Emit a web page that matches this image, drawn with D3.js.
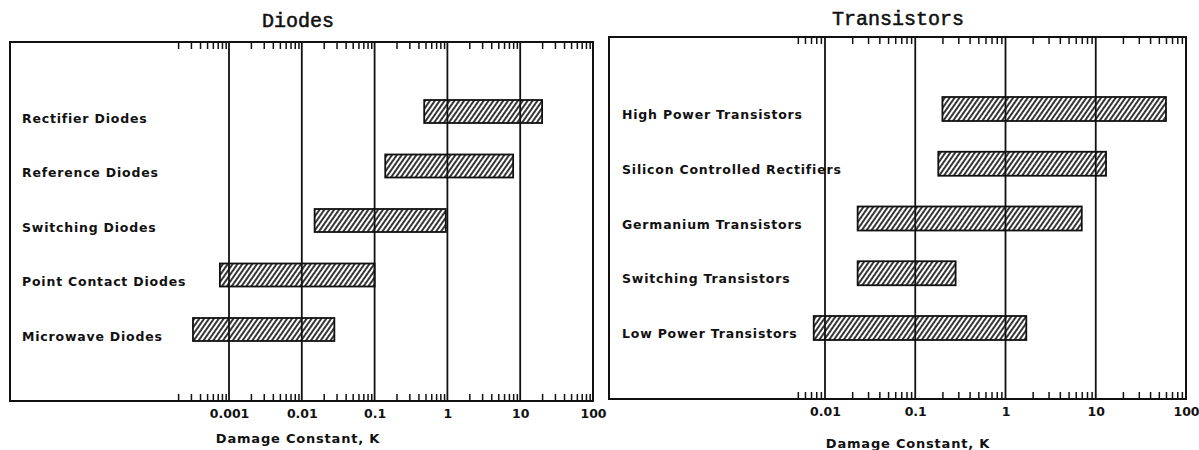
<!DOCTYPE html>
<html>
<head>
<meta charset="utf-8">
<script src="https://cdn.jsdelivr.net/npm/d3@7"></script>
<style>
  html, body { margin: 0; padding: 0; background: #fff; }
  svg { display: block; }
  .cat { font-family: "DejaVu Sans", sans-serif; font-weight: 700; font-size: 12.5px; letter-spacing: 0.8px; fill: #111; }
  .tick text { font-family: "DejaVu Sans", sans-serif; font-weight: 700; font-size: 12.5px; fill: #111; }
  .xtitle { font-family: "DejaVu Sans", sans-serif; font-weight: 700; font-size: 13px; letter-spacing: 0.8px; fill: #111; }
  .ptitle { font-family: "Liberation Mono", monospace; font-size: 20px; fill: #111; stroke: #111; stroke-width: 0.55; }
</style>
</head>
<body>
<svg id="chart" width="1199" height="450"></svg>
<script>
// Diodes: damage-constant ranges (K)
const diodeCategories = ["Rectifier Diodes", "Reference Diodes", "Switching Diodes", "Point Contact Diodes", "Microwave Diodes"];
const diodeLow  = [0.48, 0.14, 0.015, 0.00075, 0.00032];
const diodeHigh = [20, 8, 0.95, 0.1, 0.028];
const diodeTickLabels = ["0.001", "0.01", "0.1", "1", "10", "100"];

// Transistors: damage-constant ranges (K)
const transistorCategories = ["High Power Transistors", "Silicon Controlled Rectifiers", "Germanium Transistors", "Switching Transistors", "Low Power Transistors"];
const transistorLow  = [0.2, 0.18, 0.023, 0.023, 0.0075];
const transistorHigh = [60, 13, 7, 0.28, 1.7];
const transistorTickLabels = ["0.01", "0.1", "1", "10", "100"];

const svg = d3.select("#chart");

// diagonal hatch fill
const defs = svg.append("defs");
defs.append("pattern")
  .attr("id", "hatch")
  .attr("patternUnits", "userSpaceOnUse")
  .attr("width", 4).attr("height", 10)
  .attr("patternTransform", "rotate(35)")
  .call(p => {
    p.append("rect").attr("width", 4).attr("height", 10).attr("fill", "#fff");
    p.append("line").attr("x1", 2).attr("y1", -1).attr("x2", 2).attr("y2", 11)
      .attr("stroke", "#111").attr("stroke-width", 1.7);
  });

function panel(cfg) {
  const g = svg.append("g");
  const x = d3.scaleLog().domain(cfg.domain).range(cfg.range);
  const y = d3.scalePoint().domain(cfg.categories).range(cfg.rows);
  const {left, top, right, bottom} = cfg.frame;

  // panel title
  g.append("text").attr("class", "ptitle")
    .attr("x", cfg.titleX).attr("y", cfg.titleY)
    .attr("text-anchor", "middle").text(cfg.title);

  // bars
  g.selectAll("rect.bar").data(cfg.categories).join("rect")
    .attr("class", "bar")
    .attr("x", (d, i) => x(cfg.low[i]))
    .attr("width", (d, i) => x(cfg.high[i]) - x(cfg.low[i]))
    .attr("y", d => y(d) - cfg.barH / 2)
    .attr("height", cfg.barH)
    .attr("fill", "url(#hatch)")
    .attr("stroke", "#111").attr("stroke-width", 1.8);

  // decade gridlines
  const decades = cfg.tickLabels.map(Number);
  g.selectAll("line.grid").data(decades.filter(v => x(v) < right - 2)).join("line")
    .attr("class", "grid")
    .attr("x1", d => x(d)).attr("x2", d => x(d))
    .attr("y1", top).attr("y2", bottom)
    .attr("stroke", "#111").attr("stroke-width", 1.8);

  // minor ticks along top and bottom, pointing inward
  const minor = [];
  const lo = Math.round(Math.log10(cfg.minorStart[1]));
  for (let e = lo; e < Math.log10(cfg.domain[1]); e++) {
    for (let m = 2; m <= 9; m++) {
      const v = m * Math.pow(10, e);
      if (v >= cfg.minorStart[0] * cfg.minorStart[1] && v <= cfg.domain[1]) minor.push(v);
    }
  }
  const axB = d3.axisBottom(x).tickValues(minor).tickSize(-7).tickFormat("");
  const axT = d3.axisTop(x).tickValues(minor).tickSize(-7).tickFormat("");
  g.append("g").attr("transform", `translate(0,${bottom})`).call(axB)
    .call(s => s.select(".domain").remove())
    .selectAll("line").attr("stroke", "#111").attr("stroke-width", 1.5);
  g.append("g").attr("transform", `translate(0,${top})`).call(axT)
    .call(s => s.select(".domain").remove())
    .selectAll("line").attr("stroke", "#111").attr("stroke-width", 1.5);

  // decade labels
  const axL = d3.axisBottom(x).tickValues(decades).tickSize(0).tickPadding(0)
    .tickFormat((d, i) => cfg.tickLabels[i]);
  g.append("g").attr("transform", `translate(0,${bottom + 8})`).call(axL)
    .call(s => s.select(".domain").remove());

  // frame
  g.append("rect")
    .attr("x", left).attr("y", top)
    .attr("width", right - left).attr("height", bottom - top)
    .attr("fill", "none").attr("stroke", "#111").attr("stroke-width", 2);

  // category labels
  g.selectAll("text.cat").data(cfg.categories).join("text")
    .attr("class", "cat")
    .attr("x", cfg.labelX)
    .attr("y", d => y(d) + cfg.labelDy)
    .text(d => d);

  // axis title
  g.append("text").attr("class", "xtitle")
    .attr("x", cfg.xTitleX).attr("y", cfg.xTitleY)
    .attr("text-anchor", "middle").text("Damage Constant, K");
}

panel({
  title: "Diodes", titleX: 298, titleY: 27,
  categories: diodeCategories, low: diodeLow, high: diodeHigh,
  tickLabels: diodeTickLabels,
  domain: [0.001, 100], range: [229, 593],
  minorStart: [2, 0.0001],
  rows: [111.5, 329.5], barH: 23,
  frame: {left: 10, top: 42, right: 593, bottom: 401},
  labelX: 22, labelDy: 11,
  xTitleX: 298, xTitleY: 443
});

panel({
  title: "Transistors", titleX: 898, titleY: 25,
  categories: transistorCategories, low: transistorLow, high: transistorHigh,
  tickLabels: transistorTickLabels,
  domain: [0.01, 100], range: [825, 1186],
  minorStart: [5, 0.001],
  rows: [109, 328], barH: 24,
  frame: {left: 609, top: 37, right: 1186, bottom: 399},
  labelX: 622, labelDy: 10,
  xTitleX: 908, xTitleY: 448
});
</script>
</body>
</html>
